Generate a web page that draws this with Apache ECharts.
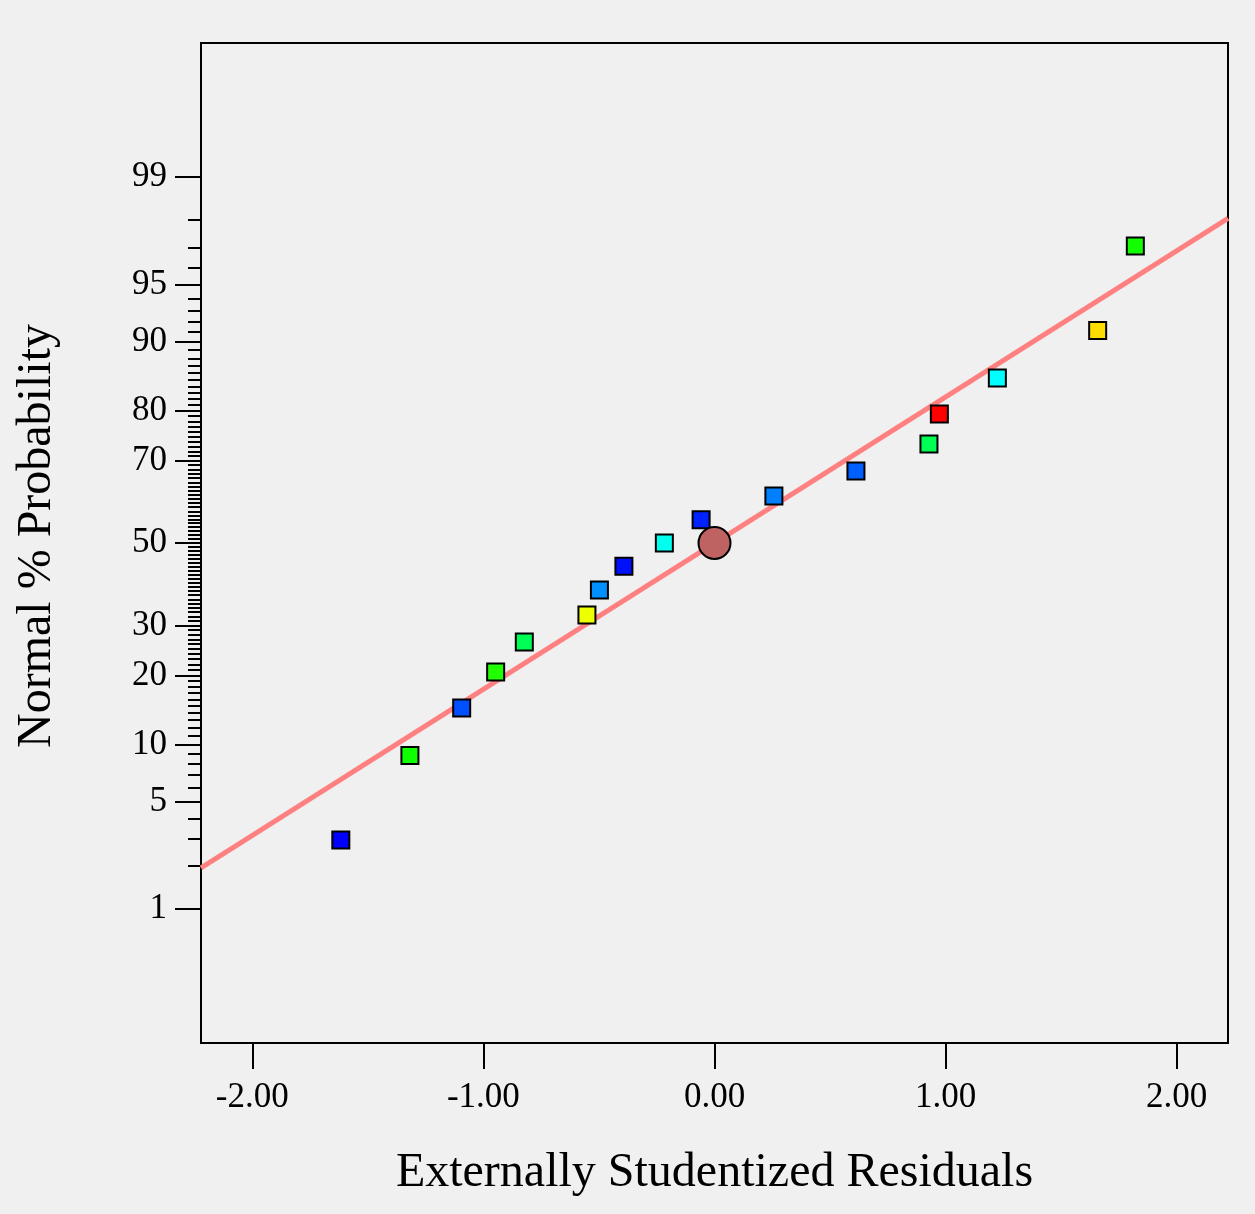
<!DOCTYPE html>
<html>
<head>
<meta charset="utf-8">
<title>Normal Plot of Residuals</title>
<script src="https://cdn.jsdelivr.net/npm/echarts@6/dist/echarts.min.js"></script>
<style>
  html, body { margin: 0; padding: 0; background: #f0f0f0; }
  #chart { width: 1255px; height: 1214px; }
</style>
</head>
<body>
<div id="chart"></div>
<script>
// Externally studentized residuals, in run order of their normal-probability rank
const residuals = [-1.617, -1.318, -1.094, -0.947, -0.823, -0.552, -0.498, -0.392, -0.217,
                   -0.058, 0.257, 0.612, 0.928, 0.973, 1.224, 1.658, 1.821];
// Normal % probability of each point
const probabilities = [2.94, 8.82, 14.71, 20.59, 26.47, 32.35, 38.24, 44.12, 50.00,
                       55.88, 61.76, 67.65, 73.53, 79.41, 85.29, 91.18, 97.06];
// Point colours
const pointColors = ['#0000ff', '#10ff00', '#0050ff', '#22ff00', '#00ff55', '#eeff00', '#0090ff',
                     '#0010ff', '#00ffee', '#0022ff', '#0080ff', '#0060ff', '#00ff55', '#ff0000',
                     '#00ffff', '#ffdd00', '#11ff00'];
// Centre marker (x, %)
const centerPoint = [0.0, 50.0];
// Reference line ends (x, %)
const lineX = [-2.222, 2.222];
const lineProb = [1.94, 98.05];

// Probability axis ticks (%)
const majorTicks = [1, 5, 10, 20, 30, 50, 70, 80, 90, 95, 99];
const xTicks = [-2, -1, 0, 1, 2];

// Inverse standard normal CDF (Acklam)
function normInv(p) {
  const a = [-3.969683028665376e+01, 2.209460984245205e+02, -2.759285104469687e+02,
             1.383577518672690e+02, -3.066479806614716e+01, 2.506628277459239e+00];
  const b = [-5.447609879822406e+01, 1.615858368580409e+02, -1.556989798598866e+02,
             6.680131188771972e+01, -1.328068155288572e+01];
  const c = [-7.784894002430293e-03, -3.223964580411365e-01, -2.400758277161838e+00,
             -2.549671010149028e+00, 4.374664141464968e+00, 2.938163982698783e+00];
  const d = [7.784695709041462e-03, 3.224671290700398e-01, 2.445134137142996e+00,
             3.754408661907416e+00];
  const pl = 0.02425, ph = 1 - pl;
  let q, r;
  if (p < pl) {
    q = Math.sqrt(-2 * Math.log(p));
    return (((((c[0]*q+c[1])*q+c[2])*q+c[3])*q+c[4])*q+c[5]) / ((((d[0]*q+d[1])*q+d[2])*q+d[3])*q+1);
  }
  if (p <= ph) {
    q = p - 0.5; r = q * q;
    return (((((a[0]*r+a[1])*r+a[2])*r+a[3])*r+a[4])*r+a[5])*q / (((((b[0]*r+b[1])*r+b[2])*r+b[3])*r+b[4])*r+1);
  }
  q = Math.sqrt(-2 * Math.log(1 - p));
  return -(((((c[0]*q+c[1])*q+c[2])*q+c[3])*q+c[4])*q+c[5]) / ((((d[0]*q+d[1])*q+d[2])*q+d[3])*q+1);
}
const z = pct => normInv(pct / 100);

// Minor ticks at every whole percent between 1 and 99 that has no label
const minorTicks = [];
for (let v = 2; v <= 98; v++) if (majorTicks.indexOf(v) < 0) minorTicks.push(v);

const majorZ = majorTicks.map(z);
const minorZ = minorTicks.map(z);
const labelFor = v => {
  let best = 0;
  majorZ.forEach((m, i) => { if (Math.abs(m - v) < Math.abs(majorZ[best] - v)) best = i; });
  return String(majorTicks[best]);
};

const FONT = "'Liberation Serif', 'Times New Roman', serif";
const Z_LIM = 3.18;

const chart = echarts.init(document.getElementById('chart'), null, { renderer: 'canvas' });
chart.setOption({
  animation: false,
  backgroundColor: '#f0f0f0',
  grid: {
    left: 201, top: 43, width: 1027, height: 1000,
    show: true, borderColor: '#000', borderWidth: 2, backgroundColor: 'transparent'
  },
  xAxis: {
    type: 'value', min: -2.222, max: 2.222,
    name: 'Externally Studentized Residuals',
    nameLocation: 'middle', nameGap: 106,
    nameTextStyle: { fontFamily: FONT, fontSize: 48, color: '#000' },
    axisLine: { show: true, onZero: false, lineStyle: { color: '#000', width: 2 } },
    axisTick: { show: true, inside: false, length: 26, customValues: xTicks, lineStyle: { color: '#000', width: 2 } },
    axisLabel: {
      customValues: xTicks, margin: 37,
      fontFamily: FONT, fontSize: 35, color: '#000',
      formatter: v => v.toFixed(2)
    },
    splitLine: { show: false }
  },
  yAxis: [{
    type: 'value', min: -Z_LIM, max: Z_LIM,
    name: 'Normal % Probability',
    nameLocation: 'middle', nameGap: 140,
    nameTextStyle: { fontFamily: FONT, fontSize: 48, color: '#000', padding: [0, 0, 0, 14] },
    axisLine: { show: true, onZero: false, lineStyle: { color: '#000', width: 2 } },
    axisTick: { show: true, inside: false, length: 26, customValues: majorZ, lineStyle: { color: '#000', width: 2 } },
    axisLabel: {
      customValues: majorZ, margin: 34,
      fontFamily: FONT, fontSize: 35, color: '#000',
      formatter: labelFor
    },
    splitLine: { show: false }
  }, {
    // minor ticks of the probability scale
    type: 'value', min: -Z_LIM, max: Z_LIM, position: 'left', offset: 0,
    axisLine: { show: false, onZero: false },
    axisTick: { show: true, inside: false, length: 13, customValues: minorZ, lineStyle: { color: '#000', width: 2 } },
    axisLabel: { show: false },
    splitLine: { show: false }
  }],
  series: [{
    type: 'line',
    yAxisIndex: 0,
    data: lineX.map((x, i) => [x, z(lineProb[i])]),
    symbol: 'none',
    lineStyle: { color: '#ff8080', width: 5 },
    z: 1, silent: true
  }, {
    type: 'scatter',
    yAxisIndex: 0,
    symbol: 'rect', symbolSize: 17,
    data: residuals.map((x, i) => ({
      value: [x, z(probabilities[i])],
      itemStyle: { color: pointColors[i] }
    })),
    itemStyle: { borderColor: '#000', borderWidth: 2, opacity: 1 },
    z: 3
  }, {
    type: 'scatter',
    yAxisIndex: 0,
    symbol: 'circle', symbolSize: 32,
    data: [[centerPoint[0], z(centerPoint[1])]],
    itemStyle: { color: '#bf6262', borderColor: '#000', borderWidth: 2, opacity: 1 },
    z: 4
  }]
});
</script>
</body>
</html>
